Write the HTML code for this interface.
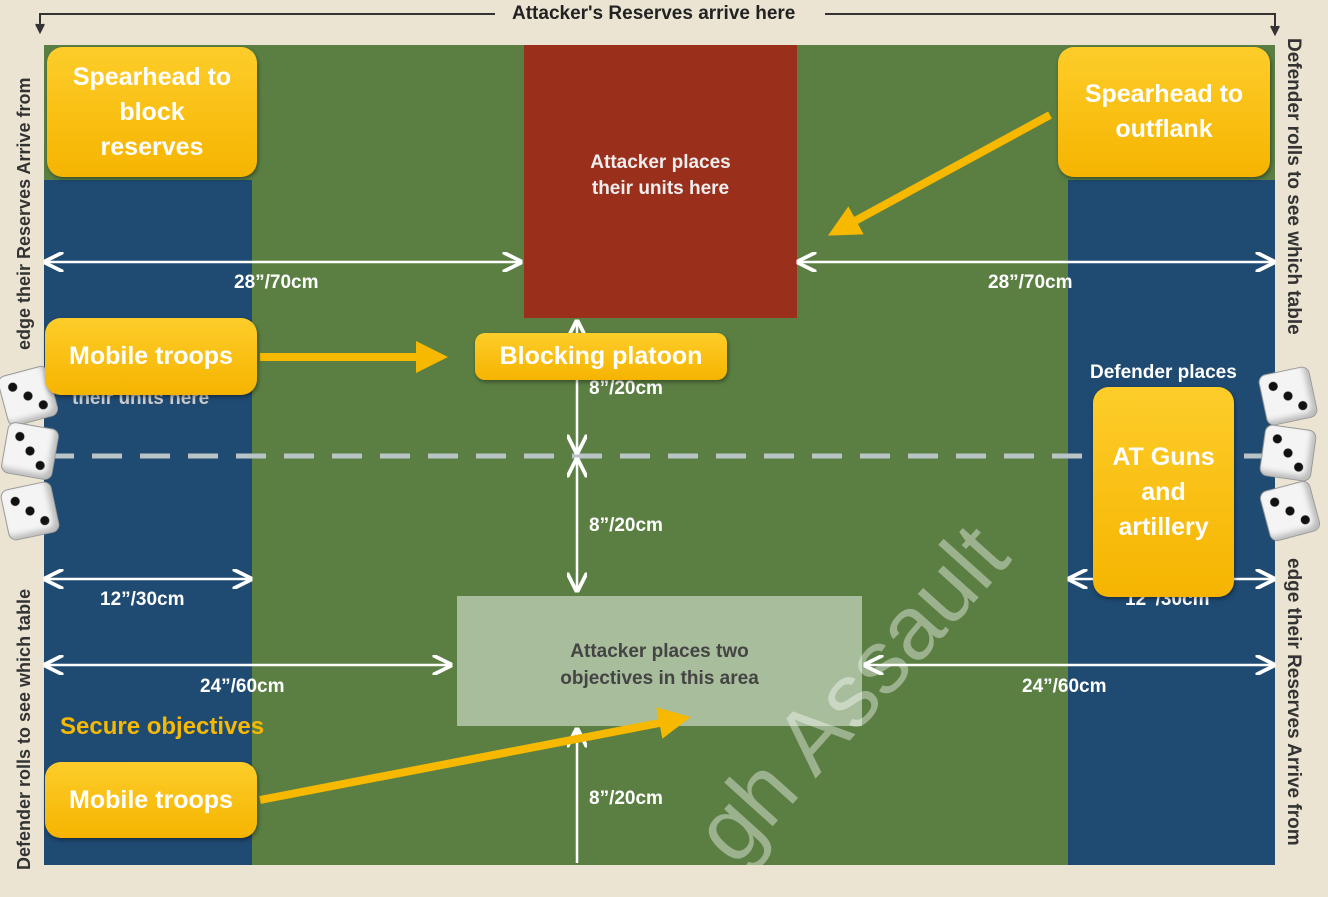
<!DOCTYPE html>
<html style="overflow:hidden;width:1328px;height:897px"><head><meta charset="utf-8"><style>
body{margin:0;width:1328px;height:897px;background:#ebe4d2;position:relative;overflow:hidden;font-family:"Liberation Sans",sans-serif}
.a{position:absolute}
.y{position:absolute;background:linear-gradient(#fdcd2a,#f6b400);border-radius:16px;color:#fff;font-weight:bold;font-size:25px;display:flex;align-items:center;justify-content:center;text-align:center;line-height:35px;box-shadow:1px 2px 4px rgba(0,0,0,.4)}
.lbl{position:absolute;color:#fff;font-weight:bold;font-size:19px}
.die{position:absolute;width:50px;height:50px;background:#f4f4f4;border-radius:8px;box-shadow:inset -4px -4px 6px #bbb;border:1px solid #999;background-image:radial-gradient(circle at 25% 25%,#111 4px,transparent 5px),radial-gradient(circle at 50% 50%,#111 4px,transparent 5px),radial-gradient(circle at 75% 75%,#111 4px,transparent 5px)}
</style></head><body>
<div class="a" style="left:44px;top:45px;width:1231px;height:820px;background:#5b7f43"></div>
<div class="a" style="left:44px;top:180px;width:208px;height:685px;background:#1f4a72"></div>
<div class="a" style="left:1068px;top:180px;width:207px;height:685px;background:#1f4a72"></div>
<div class="a" style="left:524px;top:45px;width:273px;height:273px;background:#9a2f1c"></div>
<div class="a" style="left:457px;top:596px;width:405px;height:130px;background:#a7bd9b"></div>
<div class="a" style="left:524px;top:150px;width:273px;text-align:center;color:#eee;font-weight:bold;font-size:19px;line-height:26px">Attacker places<br>their units here</div>
<div class="a" style="left:457px;top:638px;width:405px;text-align:center;color:#444;font-weight:bold;font-size:19px;line-height:27px">Attacker places two<br>objectives in this area</div>
<div class="a" style="left:1090px;top:362px;color:#fff;font-weight:bold;font-size:19px">Defender places</div>
<div class="a" style="left:72px;top:388px;color:#ccc;font-weight:bold;font-size:19px">their units here</div>
<svg class="a" style="left:0;top:0" width="1328" height="897">
<defs><marker id="w" markerWidth="8" markerHeight="8" refX="7" refY="4" orient="auto-start-reverse"><path d="M0,0L8,4L0,8" fill="none" stroke="#fff" stroke-width="1.5"/></marker>
<marker id="y" markerWidth="4" markerHeight="4" refX="2" refY="2" orient="auto"><path d="M0,0L4,2L0,4z" fill="#f7b800"/></marker>
<clipPath id="tc"><rect x="44" y="45" width="1231" height="820"/></clipPath></defs>
<g clip-path="url(#tc)"><text transform="translate(735,868) rotate(-48)" font-family="Liberation Sans, sans-serif" font-size="90" fill="rgba(255,255,255,0.4)">gh Assault</text></g>
<line x1="44" y1="456" x2="1275" y2="456" stroke="#b8c4c6" stroke-width="5" stroke-dasharray="30,18"/>
<g stroke="#fff" stroke-width="2.5" fill="none">
<line x1="46" y1="262" x2="520" y2="262" marker-start="url(#w)" marker-end="url(#w)"/>
<line x1="799" y1="262" x2="1273" y2="262" marker-start="url(#w)" marker-end="url(#w)"/>
<line x1="577" y1="322" x2="577" y2="452" marker-start="url(#w)" marker-end="url(#w)"/>
<line x1="577" y1="460" x2="577" y2="590" marker-start="url(#w)" marker-end="url(#w)"/>
<line x1="577" y1="730" x2="577" y2="863" marker-start="url(#w)"/>
<line x1="46" y1="579" x2="250" y2="579" marker-start="url(#w)" marker-end="url(#w)"/>
<line x1="1070" y1="579" x2="1273" y2="579" marker-start="url(#w)" marker-end="url(#w)"/>
<line x1="46" y1="665" x2="450" y2="665" marker-start="url(#w)" marker-end="url(#w)"/>
<line x1="866" y1="665" x2="1273" y2="665" marker-start="url(#w)" marker-end="url(#w)"/>
</g>
<g stroke="#333" stroke-width="2" fill="none"><path d="M40,24V14H495M825,14H1275V30"/><path d="M36,24l4,8l4,-8M1271,26l4,8l4,-8" fill="#333"/></g>
<g stroke="#f7b800" stroke-width="8">
<line x1="260" y1="357" x2="432" y2="357" marker-end="url(#y)"/>
<line x1="1050" y1="115" x2="842" y2="228" marker-end="url(#y)"/>
<line x1="260" y1="800" x2="675" y2="720" marker-end="url(#y)"/>
</g>
</svg>
<div class="a" style="left:512px;top:3px;font-weight:bold;font-size:19px;color:#222">Attacker's Reserves arrive here</div>
<div class="a" style="left:14px;top:870px;transform:rotate(-90deg);transform-origin:left top;white-space:nowrap;font-weight:bold;font-size:18px;color:#333">Defender rolls to see which table</div>
<div class="a" style="left:14px;top:350px;transform:rotate(-90deg);transform-origin:left top;white-space:nowrap;font-weight:bold;font-size:18px;color:#333">edge their Reserves Arrive from</div>
<div class="a" style="left:1304px;top:38px;transform:rotate(90deg);transform-origin:left top;white-space:nowrap;font-weight:bold;font-size:19px;color:#333">Defender rolls to see which table</div>
<div class="a" style="left:1304px;top:558px;transform:rotate(90deg);transform-origin:left top;white-space:nowrap;font-weight:bold;font-size:19px;color:#333">edge their Reserves Arrive from</div>
<div class="lbl" style="left:234px;top:272px">28”/70cm</div>
<div class="lbl" style="left:988px;top:272px">28”/70cm</div>
<div class="lbl" style="left:589px;top:378px">8”/20cm</div>
<div class="lbl" style="left:589px;top:515px">8”/20cm</div>
<div class="lbl" style="left:589px;top:788px">8”/20cm</div>
<div class="lbl" style="left:100px;top:589px">12”/30cm</div>
<div class="lbl" style="left:1125px;top:589px">12”/30cm</div>
<div class="lbl" style="left:200px;top:676px">24”/60cm</div>
<div class="lbl" style="left:1022px;top:676px">24”/60cm</div>
<div class="a" style="left:60px;top:713px;color:#f7b800;font-weight:bold;font-size:24px">Secure objectives</div>
<div class="die" style="left:2px;top:370px;transform:rotate(-15deg)"></div>
<div class="die" style="left:4px;top:425px;transform:rotate(10deg)"></div>
<div class="die" style="left:4px;top:485px;transform:rotate(-12deg)"></div>
<div class="die" style="left:1262px;top:370px;transform:rotate(-12deg)"></div>
<div class="die" style="left:1262px;top:427px;transform:rotate(8deg)"></div>
<div class="die" style="left:1264px;top:485px;transform:rotate(-15deg)"></div>
<div class="y" style="left:47px;top:47px;width:210px;height:130px">Spearhead to<br>block<br>reserves</div>
<div class="y" style="left:1058px;top:47px;width:212px;height:130px">Spearhead to<br>outflank</div>
<div class="y" style="left:45px;top:318px;width:212px;height:77px">Mobile troops</div>
<div class="y" style="left:475px;top:333px;width:252px;height:47px;border-radius:10px">Blocking platoon</div>
<div class="y" style="left:1093px;top:387px;width:141px;height:210px">AT Guns<br>and<br>artillery</div>
<div class="y" style="left:45px;top:762px;width:212px;height:76px">Mobile troops</div>
</body></html>
